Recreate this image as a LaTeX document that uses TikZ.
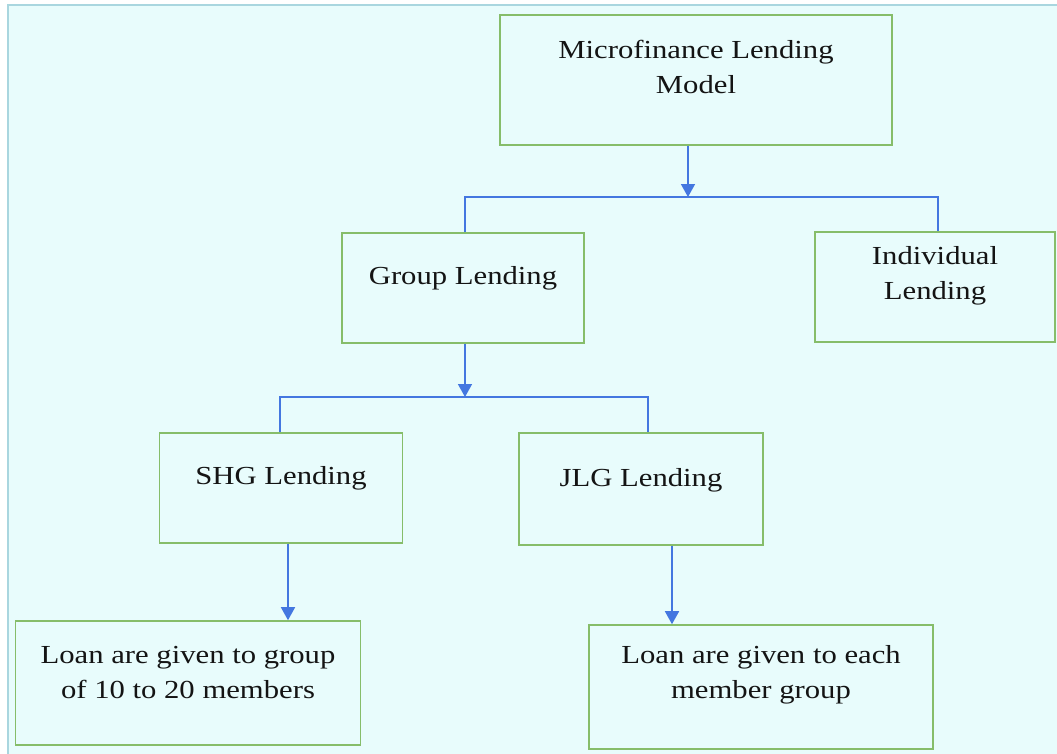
\documentclass[tikz,border=0pt]{standalone}
\usepackage{fontspec}
\setmainfont[FakeStretch=1.18]{Liberation Serif}
\usetikzlibrary{arrows.meta}
\definecolor{bgcyan}{HTML}{E8FCFC}
\definecolor{framecol}{HTML}{A9D6DF}
\definecolor{boxgreen}{HTML}{86BD6A}
\definecolor{linkblue}{HTML}{4477E0}
\tikzset{
  box/.style={draw=boxgreen, line width=1.6pt, rectangle, inner sep=0pt},
  txt/.style={align=center, font=\fontsize{26}{35}\selectfont, text=black!92, inner sep=0pt},
  link/.style={draw=linkblue, line width=1.6pt},
  linkarr/.style={link, -{Triangle[width=14pt,length=13pt]}}
}
\begin{document}
\begin{tikzpicture}[x=1pt, y=-1pt]
    \useasboundingbox (0,0) rectangle (1057,753);
    \fill[white] (0,0) rectangle (1057,753);
    \draw[fill=bgcyan, draw=framecol, line width=2pt] (8,5) rectangle (1070,770);
	% boxes
	\node[box, minimum width=392pt, minimum height=130pt] (mlm) at (696,80) {};
	\node[txt] (mlmtxt) at (696,67) {Microfinance Lending\\Model};
	\node[box, minimum width=242pt, minimum height=110pt] (group) at (463,288) {};
	\node[txt] (grouptxt) at (463,278) {Group Lending};
	\node[box, minimum width=240pt, minimum height=110pt] (indiv) at (935,287) {};
	\node[txt] (indivtxt) at (935,276) {Individual\\Lending};
	\node[box, minimum width=243pt, minimum height=110pt] (shg) at (281,488) {};
	\node[txt] (shgtxt) at (281,478) {SHG Lending};
	\node[box, minimum width=244pt, minimum height=112pt] (jlg) at (641,489) {};
	\node[txt] (jlgtxt) at (641,480) {JLG Lending};
	\node[box, minimum width=345pt, minimum height=124pt] (loanshg) at (188,683) {};
	\node[txt] (loanshgtxt) at (188,673) {Loan are given to group\\of 10 to 20 members};
	\node[box, minimum width=344pt, minimum height=124pt] (loanjlg) at (761,687) {};
	\node[txt] (loanjlgtxt) at (761,675) {Loan are given to each\\member group};
	% connectors
	\coordinate (j1) at (688,197);
	\coordinate (j2) at (465,397);
	\draw[linkarr] (mlm.south -| j1) -- (j1);
	\draw[link] (group.north -| j2) |- (j1) -| (indiv.north -| 938,0);
	\draw[linkarr] (group.south -| j2) -- (j2);
	\draw[link] (shg.north -| 280,0) |- (j2) -| (jlg.north -| 648,0);
	\draw[linkarr] (shg.south -| 288,0) -- (loanshg.north -| 288,0);
	\draw[linkarr] (jlg.south -| 672,0) -- (loanjlg.north -| 672,0);
\end{tikzpicture}
\end{document}
